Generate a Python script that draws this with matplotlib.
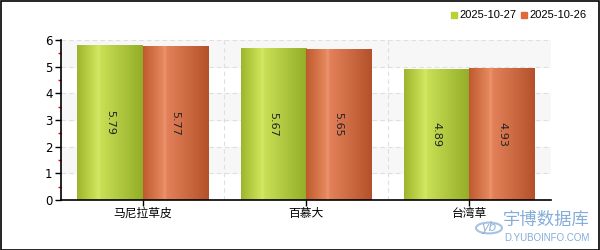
import numpy as np
import matplotlib
matplotlib.use('Agg')
import matplotlib.pyplot as plt
from matplotlib.colors import LinearSegmentedColormap
from matplotlib.patches import Rectangle

plt.rcParams['font.family'] = ['DejaVu Sans', 'Noto Sans CJK SC']

categories = ['马尼拉草皮', '百慕大', '台湾草']
series_names = ['2025-10-27', '2025-10-26']
values_27 = [5.79, 5.67, 4.89]
values_26 = [5.77, 5.65, 4.93]

green_cmap = LinearSegmentedColormap.from_list(
    'g', [(0, '#9db52c'), (0.3, '#cde35a'), (0.33, '#d4e86a'), (0.36, '#c8df55'), (1, '#93ad28')])
orange_cmap = LinearSegmentedColormap.from_list(
    'o', [(0, '#bf5a2e'), (0.3, '#e5875d'), (0.33, '#eb9570'), (0.36, '#e3825a'), (1, '#b4512a')])

fig = plt.figure(figsize=(6, 2.5), dpi=100)
ax = fig.add_axes([61 / 600, 0.2, 490 / 600, 0.64])

ax.set_xlim(0, 3)
ax.set_ylim(0, 6)

# alternating bands
for lo in [1, 3, 5]:
    ax.axhspan(lo, lo + 1, color='#f7f7f7', zorder=0)
for y in range(1, 7):
    ax.axhline(y, color='#e0e0e0', lw=0.8, ls=(0, (4, 3)), zorder=0.5)
for x in [1, 2]:
    ax.axvline(x, color='#e0e0e0', lw=0.8, ls=(0, (4, 3)), zorder=0.5)

grad = np.linspace(0, 1, 256).reshape(1, -1)
w = 0.4
for i in range(len(categories)):
    c = i + 0.5
    for vals, cmap, x0 in [(values_27, green_cmap, c - w), (values_26, orange_cmap, c)]:
        h = vals[i]
        ax.imshow(grad, cmap=cmap, extent=(x0, x0 + w, 0, h), aspect='auto', zorder=2)
        ax.text(x0 + w / 2, h / 2, f'{h:.2f}', rotation=-90, ha='center', va='center',
                fontsize=8, color='#222222', zorder=3)

ax.set_xticks([0.5, 1.5, 2.5])
ax.set_xticklabels(categories, family=['Noto Sans CJK SC', 'DejaVu Sans'], fontsize=8.5)
ax.set_yticks(range(7))
ax.set_yticks(np.arange(0.5, 6, 1), minor=True)
ax.tick_params(axis='y', which='major', length=4, width=1, color='black', labelsize=8.5, pad=2)
ax.tick_params(axis='y', which='minor', length=2, width=1, color='red')
ax.tick_params(axis='x', which='major', length=4, width=1, color='black', labelsize=8.5, pad=1)

for s in ['top', 'right']:
    ax.spines[s].set_visible(False)
ax.spines['left'].set_linewidth(1.2)
ax.spines['bottom'].set_linewidth(1.2)

# legend
fig.patches.append(Rectangle((451 / 600, 1 - 18 / 250), 6 / 600, 6 / 250, color='#b5d334',
                             transform=fig.transFigure, figure=fig))
fig.text(459 / 600, 1 - 15 / 250, series_names[0], fontsize=8, va='center', ha='left',
         family=['Liberation Sans'])
fig.patches.append(Rectangle((521 / 600, 1 - 18 / 250), 6 / 600, 6 / 250, color='#e0683a',
                             transform=fig.transFigure, figure=fig))
fig.text(529 / 600, 1 - 15 / 250, series_names[1], fontsize=8, va='center', ha='left',
         family=['Liberation Sans'])

# watermark
fig.text(590 / 600, 1 - 220 / 250, '宇博数据库', family=['Noto Sans CJK SC'], fontsize=12.5,
         color='#6f9fd0', va='center', ha='right', alpha=0.85)
fig.text(590 / 600, 1 - 238 / 250, 'D.YUBOINFO.COM', fontsize=7, color='#6f9fd0',
         va='center', ha='right', alpha=0.85, family=['Liberation Sans'])
fig.patches.append(plt.Circle((489 / 600, 1 - 228 / 250), 13 / 600, fill=False, ec='#8fb4d8',
                              lw=1.5, transform=fig.transFigure, figure=fig, alpha=0.8))
fig.text(489 / 600, 1 - 228 / 250, 'yb', fontsize=9, color='#7aa6d2', ha='center', va='center',
         style='italic', alpha=0.8)

# outer frame
fig.patches.append(Rectangle((0.001, 0.002), 0.997, 0.995, fill=False, ec='black', lw=1.2,
                             transform=fig.transFigure, figure=fig))

fig.savefig('out.png', dpi=100)
